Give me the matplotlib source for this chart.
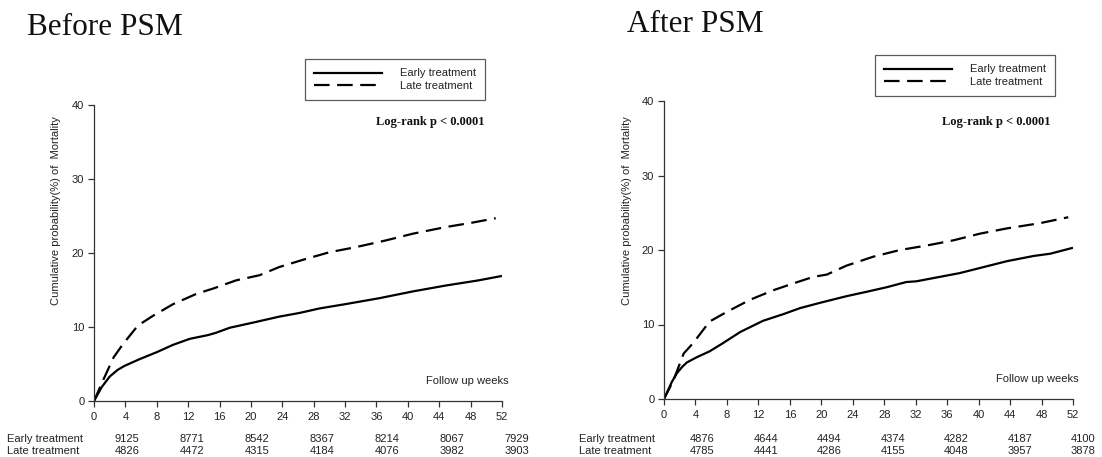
import numpy as np
import matplotlib
matplotlib.use("Agg")
import matplotlib.pyplot as plt
from matplotlib.lines import Line2D
from matplotlib.transforms import blended_transform_factory

W, H = 1102, 457

# ---------------- data ----------------
titles = ["Before PSM", "After PSM"]
group_names = ["Early treatment", "Late treatment"]
pvalue_text = "Log-rank p < 0.0001"
x_ticks = list(range(0, 53, 4))
y_ticks = [0, 10, 20, 30, 40]

# Before PSM curves (weeks, cumulative %)
before_early_w = [0, 1.0, 2.0, 3.0, 3.9, 5.8, 8.0, 10.1, 12.2, 14.5, 15.5, 17.3, 20.3, 23.6,
                  26.2, 28.7, 32.1, 36.4, 40.6, 44.8, 49.0, 52.0]
before_early_y = [0, 1.9, 3.3, 4.2, 4.75, 5.65, 6.6, 7.6, 8.4, 8.9, 9.2, 9.9, 10.6, 11.4,
                  11.9, 12.5, 13.1, 13.9, 14.8, 15.6, 16.3, 16.9]
before_late_w = [0, 1.2, 2.5, 3.7, 5.6, 7.5, 10.1, 13.1, 15.2, 18.1, 21.1, 23.6, 27.0,
                 30.0, 33.4, 37.2, 40.6, 44.8, 48.2, 51.2]
before_late_y = [0, 2.9, 5.9, 7.7, 10.2, 11.5, 13.1, 14.5, 15.2, 16.3, 17.0, 18.1, 19.2,
                 20.1, 20.8, 21.7, 22.6, 23.5, 24.1, 24.7]

# After PSM curves
after_early_w = [0, 1.0, 1.6, 2.3, 2.9, 4.15, 5.8, 7.5, 9.7, 12.6, 15.2, 17.3, 19.8, 23.2,
                 25.8, 28.3, 30.8, 32.1, 35.1, 37.6, 40.6, 43.6, 47.0, 49.1, 52.0]
after_early_y = [0, 2.3, 3.4, 4.3, 4.9, 5.6, 6.4, 7.5, 9.0, 10.5, 11.4, 12.2, 12.9, 13.8,
                 14.4, 15.0, 15.7, 15.8, 16.4, 16.9, 17.7, 18.5, 19.2, 19.5, 20.3]
after_late_w = [0, 1.2, 2.5, 3.7, 5.8, 8.0, 10.9, 13.9, 16.4, 19.0, 20.7, 23.2, 26.6,
                30.0, 33.4, 36.8, 40.2, 43.6, 47.8, 51.4]
after_late_y = [0, 2.5, 6.1, 7.5, 10.4, 11.7, 13.3, 14.6, 15.5, 16.4, 16.7, 17.9, 19.1,
                20.0, 20.6, 21.3, 22.2, 22.9, 23.6, 24.4]

# Numbers at risk
before_risk_early = [9125, 8771, 8542, 8367, 8214, 8067, 7929]
before_risk_late = [4826, 4472, 4315, 4184, 4076, 3982, 3903]
after_risk_early = [4876, 4644, 4494, 4374, 4282, 4187, 4100]
after_risk_late = [4785, 4441, 4286, 4155, 4048, 3957, 3878]

# ---------------- styling ----------------
SANS = ["Liberation Sans", "DejaVu Sans"]
SERIF = ["Liberation Serif", "DejaVu Serif"]
plt.rcParams["font.family"] = SANS
DASH = (0, (7, 3.4))
LW = 1.6


def fx(px):
    return px / W


def fy(py):
    return 1 - py / H


fig = plt.figure(figsize=(W / 100, H / 100), dpi=100)

panels = [
    dict(title=titles[0], rect=(94, 401, 408, 296), title_xy=(27, 35),
         ew=before_early_w, ey=before_early_y, lw_=before_late_w, ly=before_late_y,
         risk_e=before_risk_early, risk_l=before_risk_late,
         risk_pos=np.linspace(4.2, 53.9, 7), row_x=7, ylab_x=56,
         leg=(305, 59), pv=(484, 122), fu=(509, 381)),
    dict(title=titles[1], rect=(664, 399, 409, 298), title_xy=(627, 32),
         ew=after_early_w, ey=after_early_y, lw_=after_late_w, ly=after_late_y,
         risk_e=after_risk_early, risk_l=after_risk_late,
         risk_pos=np.linspace(4.9, 53.3, 7), row_x=579, ylab_x=627,
         leg=(875, 55), pv=(1050, 122), fu=(1079, 379)),
]

for p in panels:
    x0, ybot, w, h = p["rect"]
    ax = fig.add_axes([fx(x0), fy(ybot), w / W, h / H])
    ax.plot(p["ew"], p["ey"], color="black", lw=LW, solid_capstyle="butt",
            solid_joinstyle="round")
    ax.plot(p["lw_"], p["ly"], color="black", lw=LW, linestyle=DASH)
    ax.set_xlim(0, 52)
    ax.set_ylim(0, 40)
    ax.set_xticks(x_ticks)
    ax.set_yticks(y_ticks)
    for s in ["top", "right"]:
        ax.spines[s].set_visible(False)
    for s in ["left", "bottom"]:
        ax.spines[s].set_color("#333333")
        ax.spines[s].set_linewidth(0.9)
    ax.tick_params(direction="out", length=4, width=0.9, color="#333333",
                   labelsize=8, labelcolor="#222222", pad=3)
    ax.tick_params(axis="x", pad=4)

    # title
    fig.text(fx(p["title_xy"][0]), fy(p["title_xy"][1]), p["title"], family=SERIF,
             fontsize=22.5, ha="left", va="baseline", color="#111111")
    # y label
    fig.text(fx(p["ylab_x"]), fy(211), "Cumulative probability(%) of  Mortality",
             rotation=90, fontsize=8, ha="center", va="center", color="#222222")
    # p value
    fig.text(fx(p["pv"][0]), fy(p["pv"][1]), pvalue_text, family=SERIF,
             fontweight="bold", fontsize=9, ha="right", va="center", color="#111111")
    # follow up weeks
    fig.text(fx(p["fu"][0]), fy(p["fu"][1]), "Follow up weeks", fontsize=8,
             ha="right", va="center", color="#222222")

    # legend
    handles = [Line2D([], [], color="black", lw=LW),
               Line2D([], [], color="black", lw=LW, linestyle=DASH)]
    leg = ax.legend(handles, group_names, loc="upper left",
                    bbox_to_anchor=(fx(p["leg"][0]), fy(p["leg"][1])),
                    bbox_transform=fig.transFigure, borderaxespad=0,
                    fontsize=8, frameon=True, fancybox=False, edgecolor="#333333",
                    handlelength=6.1, handletextpad=1.6, labelspacing=0.2,
                    borderpad=0.85)
    leg.get_frame().set_linewidth(0.9)
    for t in leg.get_texts():
        t.set_color("#222222")

    # risk table
    tr = blended_transform_factory(ax.transData, fig.transFigure)
    fig.text(fx(p["row_x"]), fy(439), group_names[0], fontsize=8, ha="left",
             va="center", color="#222222")
    fig.text(fx(p["row_x"]), fy(450.5), group_names[1], fontsize=8, ha="left",
             va="center", color="#222222")
    for xp, e, l in zip(p["risk_pos"], p["risk_e"], p["risk_l"]):
        ax.text(xp, fy(439), str(e), transform=tr, fontsize=8, ha="center",
                va="center", color="#222222", clip_on=False)
        ax.text(xp, fy(450.5), str(l), transform=tr, fontsize=8, ha="center",
                va="center", color="#222222", clip_on=False)

fig.savefig("out.png", dpi=100)
